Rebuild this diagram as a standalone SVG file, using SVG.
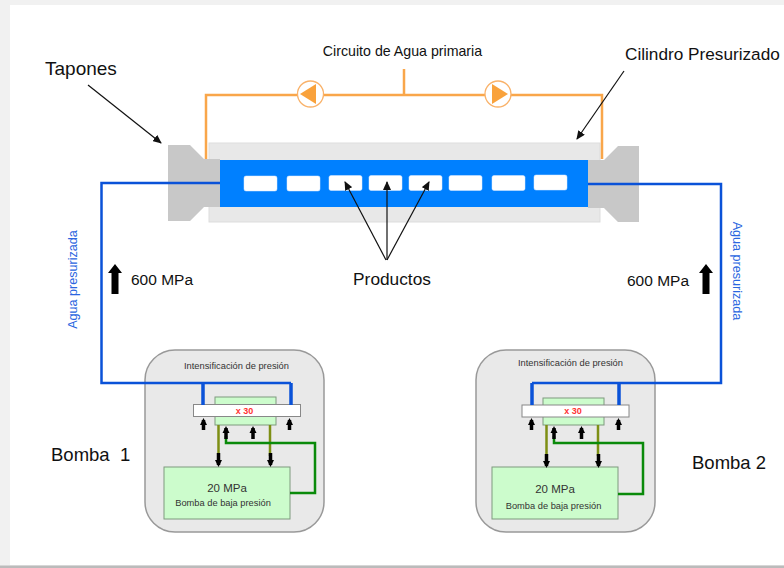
<svg xmlns="http://www.w3.org/2000/svg" width="784" height="568" viewBox="0 0 784 568">
<style>
text{font-family:"Liberation Sans",Arial,sans-serif;fill:#111}
.sm{font-size:9.300px;fill:#333;text-anchor:middle}
.mp{font-size:11.500px;fill:#333;text-anchor:middle}
.x{font-size:9px;font-weight:bold;fill:#f33;text-anchor:middle}
.blue{fill:none;stroke:#0a52d8;stroke-width:2.500}
.blue2{fill:none;stroke:#0a52d8;stroke-width:3.500}
.org{fill:none;stroke:#f9a64a;stroke-width:2.500}
.grn{fill:none;stroke:#0a8a0a;stroke-width:2.500}
.olv{fill:none;stroke:#7d8f14;stroke-width:2.500}
.pl{fill:#c8c8c8}
.prod{fill:#fff;stroke:#d8e8ff;stroke-width:.5}
.box{fill:#e9e9e9;stroke:#999;stroke-width:1.500}
.pale{fill:#ccfccc;stroke:#7f9a7f;stroke-width:1}
.bar{fill:#fff;stroke:#888;stroke-width:1}
.thin{fill:none;stroke:#111;stroke-width:1.200;marker-end:url(#a)}
.ar{fill:none;stroke:#000;stroke-width:3.500;marker-end:url(#b)}
.pump{fill:#fff;stroke:#f9b26a;stroke-width:1.300}
.tri{fill:#f9a23c}
.v{font-size:12.600px;fill:#2a66e0;text-anchor:middle}
</style>
<defs>
<marker id="a" markerUnits="userSpaceOnUse" markerWidth="9" markerHeight="8" refX="8" refY="4" orient="auto"><path d="M0 0L9 4L0 8z" fill="#111"/></marker>
<marker id="b" markerUnits="userSpaceOnUse" markerWidth="8" markerHeight="8" refX="5" refY="4" orient="auto"><path d="M0 0.500L7 4L0 7.500z" fill="#000"/></marker>
</defs>
<rect width="784" height="568" fill="#f1f1f1"/>
<rect x="10" y="5" width="774" height="560" fill="#fff"/>
<rect x="0" y="565.500" width="784" height="2.500" fill="#bbb"/>

<g id="cilindro">
<rect x="209" y="143" width="391" height="79" fill="#e8e8e8" stroke="#ddd"/>
</g>
<g id="tapon-izq"><path class="pl" d="M168 145H190L204 159H220V207H204L190 221H168z"/></g>
<g id="tapon-der"><path class="pl" d="M588 160H604L618 146H639V222H618L604 208H588z"/></g>
<g id="camara">
<rect x="220" y="160" width="368" height="47" fill="#0080ff"/>
<rect class="prod" x="244" y="176" width="33" height="15" rx="2"/>
<rect class="prod" x="287" y="176" width="33" height="15" rx="2"/>
<rect class="prod" x="329" y="175.500" width="33" height="15" rx="2"/>
<rect class="prod" x="369" y="175.500" width="33" height="15" rx="2"/>
<rect class="prod" x="409" y="175.500" width="33" height="15" rx="2"/>
<rect class="prod" x="449" y="175.500" width="33" height="15" rx="2"/>
<rect class="prod" x="492" y="175.500" width="33" height="15" rx="2"/>
<rect class="prod" x="534" y="175" width="33" height="15" rx="2"/>
</g>

<g id="bomba1">
<rect class="box" x="145" y="350" width="179" height="182" rx="30"/>
<text class="sm" x="236.500" y="369">Intensificación de presión</text>
<rect class="pale" x="215" y="397" width="61" height="28"/>
<rect class="bar" x="193.500" y="404.500" width="107" height="12"/>
<text class="x" x="244.500" y="413.500">x 30</text>
<rect class="pale" x="164" y="467" width="126" height="52"/>
<text class="mp" x="227" y="492">20 MPa</text>
<text class="sm" x="223" y="506">Bomba de baja presión</text>
</g>
<g id="bomba2">
<rect class="box" x="476" y="350" width="179" height="182" rx="30"/>
<text class="sm" x="570.500" y="366">Intensificación de presión</text>
<rect class="pale" x="543" y="398" width="61" height="27"/>
<rect class="bar" x="522" y="405" width="107" height="12"/>
<text class="x" x="573" y="414">x 30</text>
<rect class="pale" x="492" y="467" width="126" height="52"/>
<text class="mp" x="555" y="493">20 MPa</text>
<text class="sm" x="553.500" y="509">Bomba de baja presión</text>
</g>

<g id="connectors">
<path class="org" d="M206 159V95H602V159M404 95V69"/>
<path class="blue" d="M220 183H101.500V383H291"/>
<path class="blue" d="M588 184H721V383H532"/>
<path class="blue2" d="M291 383V405M203 383V405M532 383V405M619 383V405"/>
<path class="olv" d="M218.500 425V456M270 425V456M546.500 425V456M598 425V456"/>
<path class="grn" d="M290 493H315V443H226V436"/>
<path class="grn" d="M618 494H643V443H554V436"/>
<path class="thin" d="M88 85L161 143"/>
<path class="thin" d="M624 71L577 139"/>
<path class="thin" d="M386 260L345 182"/>
<path class="thin" d="M387 260V182"/>
<path class="thin" d="M387 260L429 182"/>
<path class="ar" d="M203.500 430V420"/>
<path class="ar" d="M289.500 430V420"/>
<path class="ar" d="M226 439V428"/>
<path class="ar" d="M253 439V428"/>
<path class="ar" d="M218.500 453V465"/>
<path class="ar" d="M270.500 453V465"/>
<path class="ar" d="M531.500 430V420"/>
<path class="ar" d="M618.500 430V420"/>
<path class="ar" d="M554 439V428"/>
<path class="ar" d="M581.500 439V428"/>
<path class="ar" d="M546.500 454V466"/>
<path class="ar" d="M598.500 454V466"/>
<path d="M115 264L122 273H118.500V294H111.500V273H108z" fill="#000"/>
<path d="M706 264L713 273H709.500V294H702.500V273H699z" fill="#000"/>
</g>

<g id="bomba-izq"><circle class="pump" cx="310.500" cy="94" r="13"/><path class="tri" d="M300 94L316 84V104z"/></g>
<g id="bomba-der"><circle class="pump" cx="498" cy="94" r="13"/><path class="tri" d="M492 84L508 94L492 104z"/></g>

<g id="labels">
<text x="402.500" y="56" font-size="14.200" text-anchor="middle">Circuito de Agua primaria</text>
<text x="625" y="60" font-size="17.200">Cilindro Presurizado</text>
<text x="45" y="75" font-size="19">Tapones</text>
<text x="392" y="285" font-size="17.300" text-anchor="middle">Productos</text>
<text x="131" y="285" font-size="15.500">600 MPa</text>
<text x="627" y="286" font-size="15.500">600 MPa</text>
<text x="51" y="461" font-size="18.500" style="white-space:pre">Bomba  1</text>
<text x="692" y="469" font-size="18.500">Bomba 2</text>
<text class="v" transform="translate(77 279.500) rotate(-90)">Agua presurizada</text>
<text class="v" transform="translate(733 271) rotate(90)">Agua presurizada</text>
</g>
</svg>
